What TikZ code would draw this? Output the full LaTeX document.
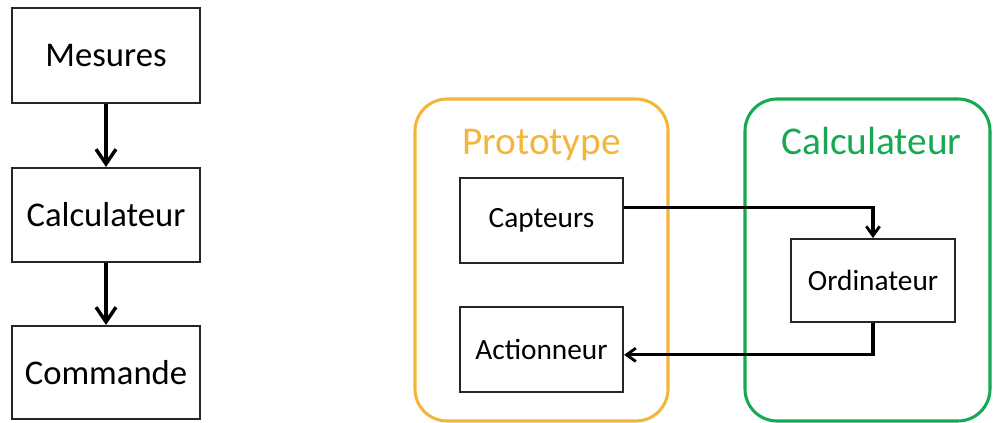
\documentclass[tikz,border=0pt]{standalone}
\usepackage{fontspec}
\setmainfont{Carlito}
\usetikzlibrary{arrows.meta}
\definecolor{protoorange}{RGB}{244,182,58}
\definecolor{calcgreen}{RGB}{22,168,82}
\tikzset{
  bigbox/.style={draw=black!85, line width=1.6pt, minimum width=141pt, inner sep=0pt, font=\fontsize{26}{30}\selectfont},
  smallbox/.style={draw=black!85, line width=1.4pt, minimum width=122.5pt, minimum height=63.5pt, inner sep=0pt, font=\fontsize{22}{26}\selectfont},
  bigarrow/.style={line width=2.6pt, -{Straight Barb[length=11pt,width=15pt,line width=2.6pt]}},
  smallarrow/.style={line width=2.3pt, -{Straight Barb[length=7pt,width=10pt,line width=2.1pt]}},
  group/.style={line width=2.3pt, rounded corners=24pt},
  grouptitle/.style={font=\fontsize{29.5}{34}\selectfont, inner sep=0pt, anchor=base}
}
\begin{document}
\begin{tikzpicture}[x=0.75pt,y=-0.75pt]
\useasboundingbox (0,0) rectangle (997,423);
% left chain
\node[bigbox, minimum height=71.25pt] (mes) at (106,55.5) {Mesures};
\node[bigbox, minimum height=70.5pt] (calc) at (106,215) {Calculateur};
\node[bigbox, minimum height=69.75pt] (cmd) at (106,372.5) {Commande};
\draw[bigarrow] (mes) -- (calc);
\draw[bigarrow] (calc) -- (cmd);
% groups
\draw[group, draw=protoorange] (415,99) rectangle (668,421);
\draw[group, draw=calcgreen] (745,99) rectangle (990,421);
\node[grouptitle, text=protoorange] (ptitle) at (541.5,155) {Prototype};
\node[grouptitle, text=calcgreen] (ctitle) at (871.5,155) {Calculateur};
% inner boxes
\node[smallbox] (capt) at (541.5,220.5) {Capteurs};
\node[smallbox] (act) at (541.5,349.5) {Actionneur};
\node[smallbox, minimum width=123pt, minimum height=62.25pt] (ordi) at (873,280.5) {Ordinateur};
% connectors
\draw[smallarrow] ([yshift=10pt]capt.east) -| (ordi.north);
\draw[smallarrow] (ordi.south) |- ([yshift=-4pt]act.east);
\end{tikzpicture}
\end{document}
